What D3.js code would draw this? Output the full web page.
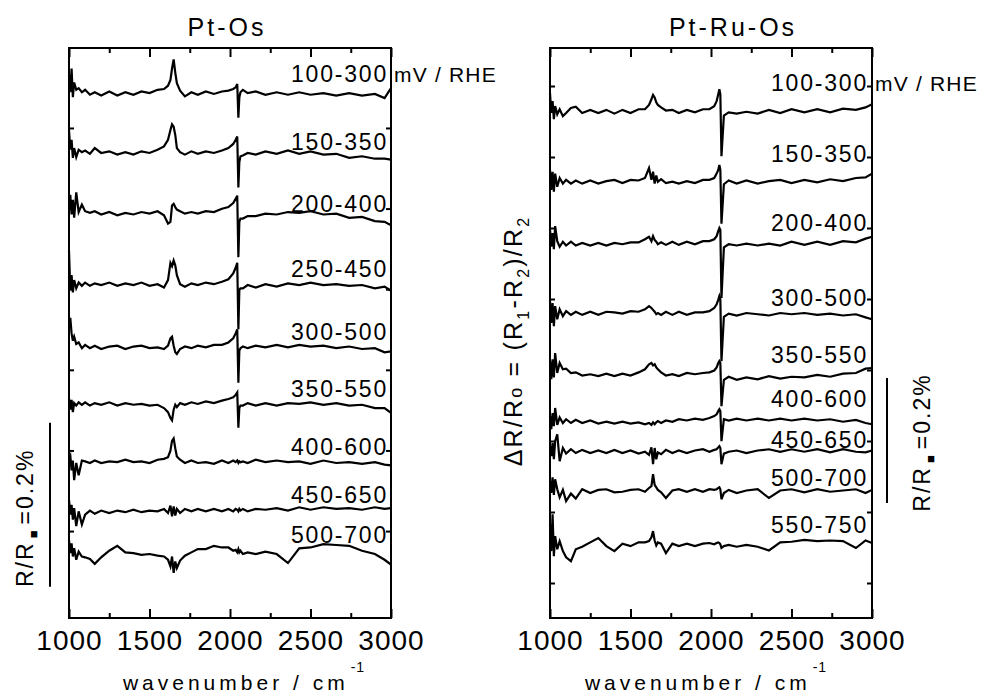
<!DOCTYPE html>
<html>
<head>
<meta charset="utf-8">
<script src="https://cdn.jsdelivr.net/npm/d3@7"></script>
<style>
  body { margin: 0; background: #fff; }
  svg text { font-family: "Liberation Sans", Arial, sans-serif; fill: #000; }
</style>
</head>
<body>
<svg id="chart" width="993" height="697"></svg>
<script>
// wavenumber grid shared by every spectrum (cm-1)
const wavenumbers = [1000,1008,1016,1024,1032,1045,1060,1080,1100,1130,
  1160,1200,1250,1300,1350,1400,1450,1500,1550,1590,
  1615,1630,1640,1650,1660,1670,1690,1720,1760,1800,
  1850,1900,1950,1990,2020,2035,2045,2052,2058,2065,
  2080,2110,2160,2220,2290,2360,2430,2500,2580,2660,
  2740,2820,2900,2960,3000]

const xTickLabels = [1000, 1500, 2000, 2500, 3000]
const xMinorTicks = [1250, 1750, 2250, 2750]

// dR/R in units of 0.001 %  (offset of each trace + its deviation)
const ptOsLabels  = ["100-300","150-350","200-400","250-450","300-500","350-550","400-600","450-650","500-700"]
const ptOsOffsets = [639, 567, 493, 407, 330, 261, 190, 132, 83]

const ptOs100 = [23,2,31,-4,14,5,7,2, 5,-1,2,-2,3,-2,2,-1,3,1,5,6, 10,17,31,42,26,13, 4,-3,2,-1,3,0,3,4, 6,8,12,-29,-4,2, 5,1,3,-1,2,-1,2,-1,1,-2,1,-2,0,-5,7]
const ptOs150 = [28,4,16,-6,6,-5,4,1, 3,-1,6,0,2,-2,1,-2,2,0,4,8, 16,28,35,32,22,6, 1,-2,2,-1,2,0,3,6, 11,16,20,-42,-11,-4, -3,0,-2,2,-1,3,-1,2,-2,-1,-6,-4,-7,-7,-8]
const ptOs200 = [11,23,-1,17,-5,26,2,11, 3,1,3,-1,2,-2,1,-1,2,0,3,-2, -12,-10,10,12,8,5, 3,0,2,0,3,2,6,8, 13,18,22,-53,-10,-6, -6,-3,-3,0,-1,2,1,3,-1,0,-5,-4,-9,-10,-14]
const ptOs250 = [41,-7,11,-10,5,-5,2,-2, 2,-2,1,-1,2,-2,1,-1,2,-2,0,-4, 5,26,22,29,23,11, 0,-3,1,-1,2,0,3,6, 13,20,26,-55,-7,-5, -5,-1,-4,0,-3,1,-1,2,-1,0,-2,-1,-5,-3,-8]
const ptOs300 = [32,36,17,8,13,4,6,-1, 3,-1,2,-2,1,2,-2,1,2,-1,0,-2, 2,11,13,2,-6,-8, -2,1,-1,2,0,3,3,6, 11,17,22,-43,-4,-1, 1,-1,2,0,3,0,3,1,2,-1,1,-2,-1,-6,-5]
const ptOs350 = [7,-7,5,-10,1,-2,2,-1, 2,-2,1,-1,2,-2,1,-1,0,-2,-1,-5, -10,-17,-20,-7,-1,-4, 1,-1,2,0,3,1,4,6, 8,11,14,-29,-5,-2, -2,1,-2,1,-2,1,0,2,-1,1,-2,-1,-5,-5,-11]
const ptOs400 = [5,8,-10,2,-22,-1,-16,2, 1,-1,2,-1,1,0,3,0,1,-1,3,4, 6,14,26,29,17,7, 3,-1,2,-1,0,-2,2,-1, 2,0,2,-1,1,0, 1,-1,3,0,2,0,1,-2,2,-1,0,-2,0,-3,-4]
const ptOs450 = [12,-6,6,-12,2,-20,-2,-18, -6,-1,-5,-1,-4,-1,-3,0,-3,-1,-2,1, -4,5,-8,4,-7,1, -4,1,-2,1,-2,1,-2,1, -2,1,0,-2,1,-1, 1,-2,1,0,2,-1,3,0,3,1,2,0,3,1,2]
const ptOs500 = [12,-4,8,-8,2,-12,-2,-8, -9,-11,-17,-9,-1,5,-3,-4,-6,-5,-7,-8, -12,-20,-8,-28,-14,-22, -13,-7,-3,1,1,5,3,3, -1,0,-3,1,-3,-1, -5,-3,-5,-2,-5,-16,2,3,7,6,5,-1,-5,-12,-18]

const ptRuOsLabels  = ["100-300","150-350","200-400","300-500","350-550","400-600","450-650","500-700","550-750"]
const ptRuOsOffsets = [811, 698, 600, 488, 390, 315, 267, 203, 118]

const ptRuOs100 = [29,-3,16,-13,8,-5,3,-8, -3,5,7,-3,2,-3,2,-4,2,-3,3,3, 10,19,26,22,14,10, 6,1,2,-3,2,-2,3,3, 8,16,27,35,27,-72, -7,-2,-4,-1,-4,2,-3,3,-2,3,-2,4,2,6,11]
const ptRuOs150 = [19,-13,16,-16,13,-8,6,-3, 3,-3,2,-3,2,-3,1,3,-2,3,2,6, 22,3,16,-3,10,0, 4,-2,0,-3,1,-2,3,3, 6,13,19,27,19,-67, -4,2,-3,2,-3,1,3,-2,3,-1,4,1,6,7,13]
const ptRuOs200 = [22,-6,16,-10,27,3,-6,2, -4,2,-4,0,-4,0,-4,0,-2,1,1,6, 10,3,11,5,2,-2, 1,-3,2,-3,2,-2,3,3, 6,11,19,24,21,-88, -7,-2,-4,-1,-4,-1,-4,2,-3,2,-3,3,1,7,10]
const ptRuOs300 = [19,-16,16,-21,11,-10,6,-5, 3,-3,2,-3,2,-3,2,1,-1,3,2,6, 11,8,5,2,-2,0, -3,2,-3,2,-3,1,1,3, 8,14,21,27,22,-77, -6,-1,-4,0,-2,-4,0,-2,0,-3,-1,-4,-2,-7,-10]
const ptRuOs350 = [21,-8,24,-5,34,2,18,8, 9,2,3,-2,0,-3,1,-3,1,-2,3,8, 16,18,14,16,11,8, 3,-2,0,-3,2,0,2,3, 6,11,18,21,18,-51, -9,-4,-9,-5,-8,-3,-7,-4,-5,-1,-4,1,2,9,10]
const ptRuOs400 = [8,-13,13,-8,21,-6,6,-3, 3,-3,2,-3,1,-4,-1,-4,-1,-4,-2,-5, -3,-6,-2,-5,-2,0, -3,1,-1,3,1,4,2,5, 8,11,16,19,16,-32, 3,1,4,1,4,1,4,1,4,1,3,-1,2,-3,-5]
const ptRuOs450 = [8,-8,13,-13,16,27,-16,5, -4,3,-3,2,-3,1,-3,2,-3,1,-4,-1, -6,6,-21,5,-13,-2, -5,2,-3,1,-3,1,3,-1, 2,3,6,8,5,-21, -4,-1,1,-3,1,3,-1,3,-1,3,-2,3,-1,-2,1]
const ptRuOs500 = [16,-3,22,-6,19,3,-10,2, -16,-4,-12,3,-3,2,3,-2,-1,2,3,-1, 5,8,27,10,6,2, -2,-11,1,3,-1,3,-1,3, 2,3,5,6,3,-13, -3,2,-3,1,3,-11,1,3,-2,3,-1,1,3,-3,2]
const ptRuOs550 = [32,-11,48,-19,13,-8,5,-11, -21,-27,-8,-4,3,10,-3,-11,1,-3,3,3, 5,11,21,6,-2,3, 1,-14,1,-3,1,-3,1,2, 0,2,3,2,0,-6, -3,-1,-4,-1,-4,-10,3,4,7,5,6,5,-6,6,2]

// scale bar: 0.2 % = 200 units
const scaleBarValue = 200

// ---- layout ----
const plotTop = 48, plotBottom = 618
const panels = [
  { title: "Pt-Os", titleX: 227, x0: 69, x1: 391, yMax: 695,
    labels: ptOsLabels, offsets: ptOsOffsets,
    series: [ptOs100, ptOs150, ptOs200, ptOs250, ptOs300, ptOs350, ptOs400, ptOs450, ptOs500],
    labelNudge: [-12, -3, -2, -7, -7, -7, -7, -7, -7], labelRight: 388,
    yTicks: d3.range(106, 600, 98.3), xLabelX: 244,
    bar: { x: 50, from: 38, textX: 33, textShift: 13 } },
  { title: "Pt-Ru-Os", titleX: 733, x0: 550, x1: 872, yMax: 912,
    labels: ptRuOsLabels, offsets: ptRuOsOffsets,
    series: [ptRuOs100, ptRuOs150, ptRuOs200, ptRuOs300, ptRuOs350, ptRuOs400, ptRuOs450, ptRuOs500, ptRuOs550],
    labelNudge: [-20, -20, -12, -7, -11, -14, -3, -5, -11], labelRight: 868,
    yTicks: d3.range(56, 912, 113.6), xLabelX: 706,
    bar: { x: 887, from: 184, textX: 930, textShift: 2 } }
]

const svg = d3.select("#chart")

panels.forEach(function(p) {
  let x = d3.scaleLinear().domain([1000, 3000]).range([p.x0, p.x1])
  let y = d3.scaleLinear().domain([0, p.yMax]).range([plotBottom, plotTop])
  let g = svg.append("g")

  let line = d3.line()
    .x(function(d){ return x(d[0]) })
    .y(function(d){ return y(d[1]) })

  // spectra
  p.series.forEach(function(s, i) {
    let pts = wavenumbers.map(function(w, j){ return [w, p.offsets[i] + s[j]] })
    g.append("path")
      .attr("d", line(pts))
      .attr("fill", "none")
      .attr("stroke", "#000")
      .attr("stroke-width", 2.2)
      .attr("stroke-linejoin", "miter")
  })

  // labels of potential ranges
  p.labels.forEach(function(lab, i) {
    g.append("text")
      .attr("x", p.labelRight)
      .attr("y", y(p.offsets[i]) + p.labelNudge[i])
      .attr("text-anchor", "end")
      .attr("font-size", 23)
      .attr("letter-spacing", 1.8)
      .text(lab)
  })
  g.append("text")
    .attr("x", p.x1 + 3)
    .attr("y", y(p.offsets[0]) + p.labelNudge[0])
    .attr("font-size", 21)
    .attr("letter-spacing", 1.2)
    .text("mV / RHE")

  // frame
  g.append("rect")
    .attr("x", p.x0).attr("y", plotTop)
    .attr("width", p.x1 - p.x0).attr("height", plotBottom - plotTop)
    .attr("fill", "none").attr("stroke", "#000").attr("stroke-width", 2)

  // axes, ticks pointing inward
  let axB = g.append("g").attr("transform", "translate(0," + plotBottom + ")")
    .call(d3.axisBottom(x).tickValues(xTickLabels).tickSize(-9).tickPadding(12).tickFormat(d3.format("d")))
  let axBm = g.append("g").attr("transform", "translate(0," + plotBottom + ")")
    .call(d3.axisBottom(x).tickValues(xMinorTicks).tickSize(-5).tickFormat(""))
  let axT = g.append("g").attr("transform", "translate(0," + plotTop + ")")
    .call(d3.axisTop(x).tickValues(xTickLabels).tickSize(-9).tickFormat(""))
  let axTm = g.append("g").attr("transform", "translate(0," + plotTop + ")")
    .call(d3.axisTop(x).tickValues(xMinorTicks).tickSize(-5).tickFormat(""))
  let axL = g.append("g").attr("transform", "translate(" + p.x0 + ",0)")
    .call(d3.axisLeft(y).tickValues(p.yTicks).tickSize(-5).tickFormat(""))
  let axR = g.append("g").attr("transform", "translate(" + p.x1 + ",0)")
    .call(d3.axisRight(y).tickValues(p.yTicks).tickSize(-5).tickFormat(""))

  ;[axB, axBm, axT, axTm, axL, axR].forEach(function(a) {
    a.select(".domain").remove()
    a.selectAll("line").attr("stroke", "#000").attr("stroke-width", 2)
  })
  axB.selectAll("text")
    .attr("font-family", "Liberation Sans, Arial, sans-serif")
    .attr("font-size", 28)
    .attr("letter-spacing", 1)
    .attr("fill", "#000")

  // title
  g.append("text")
    .attr("x", p.titleX).attr("y", 36)
    .attr("text-anchor", "middle")
    .attr("font-size", 25)
    .attr("letter-spacing", 3)
    .text(p.title)

  // x axis title
  let xt = g.append("text")
    .attr("x", p.xLabelX).attr("y", 690)
    .attr("text-anchor", "middle")
    .attr("font-size", 21)
    .attr("letter-spacing", 4)
  xt.append("tspan").text("wavenumber / cm")
  xt.append("tspan").attr("dy", -18).attr("dx", 2).attr("font-size", 14).attr("letter-spacing", 1).text("-1")

  // scale bar
  let b0 = y(p.bar.from), b1 = y(p.bar.from + scaleBarValue)
  g.append("line")
    .attr("x1", p.bar.x).attr("x2", p.bar.x)
    .attr("y1", b0).attr("y2", b1)
    .attr("stroke", "#000").attr("stroke-width", 2)
  let bt = g.append("text")
    .attr("transform", "translate(" + p.bar.textX + "," + ((b0 + b1) / 2 + p.bar.textShift) + ") rotate(-90)")
    .attr("text-anchor", "middle")
    .attr("font-size", 23)
    .attr("letter-spacing", 2)
  bt.append("tspan").text("R/R")
  bt.append("tspan").attr("dy", 5).attr("dx", 3).attr("font-size", 13).text("\u25A0")
  bt.append("tspan").attr("dy", -5).attr("dx", 4).text("=0.2%")
})

// y axis title of the right panel
let yt = svg.append("text")
  .attr("transform", "translate(522,341) rotate(-90)")
  .attr("text-anchor", "middle")
  .attr("font-size", 25)
  .attr("letter-spacing", 2.2)
yt.append("tspan").text("\u0394R/R")
yt.append("tspan").attr("font-size", 18).text("o")
yt.append("tspan").text(" = (R")
yt.append("tspan").attr("font-size", 16).attr("dy", 7).text("1")
yt.append("tspan").attr("dy", -7).text("-R")
yt.append("tspan").attr("font-size", 16).attr("dy", 7).text("2")
yt.append("tspan").attr("dy", -7).text(")/R")
yt.append("tspan").attr("font-size", 16).attr("dy", 7).text("2")
</script>
</body>
</html>
